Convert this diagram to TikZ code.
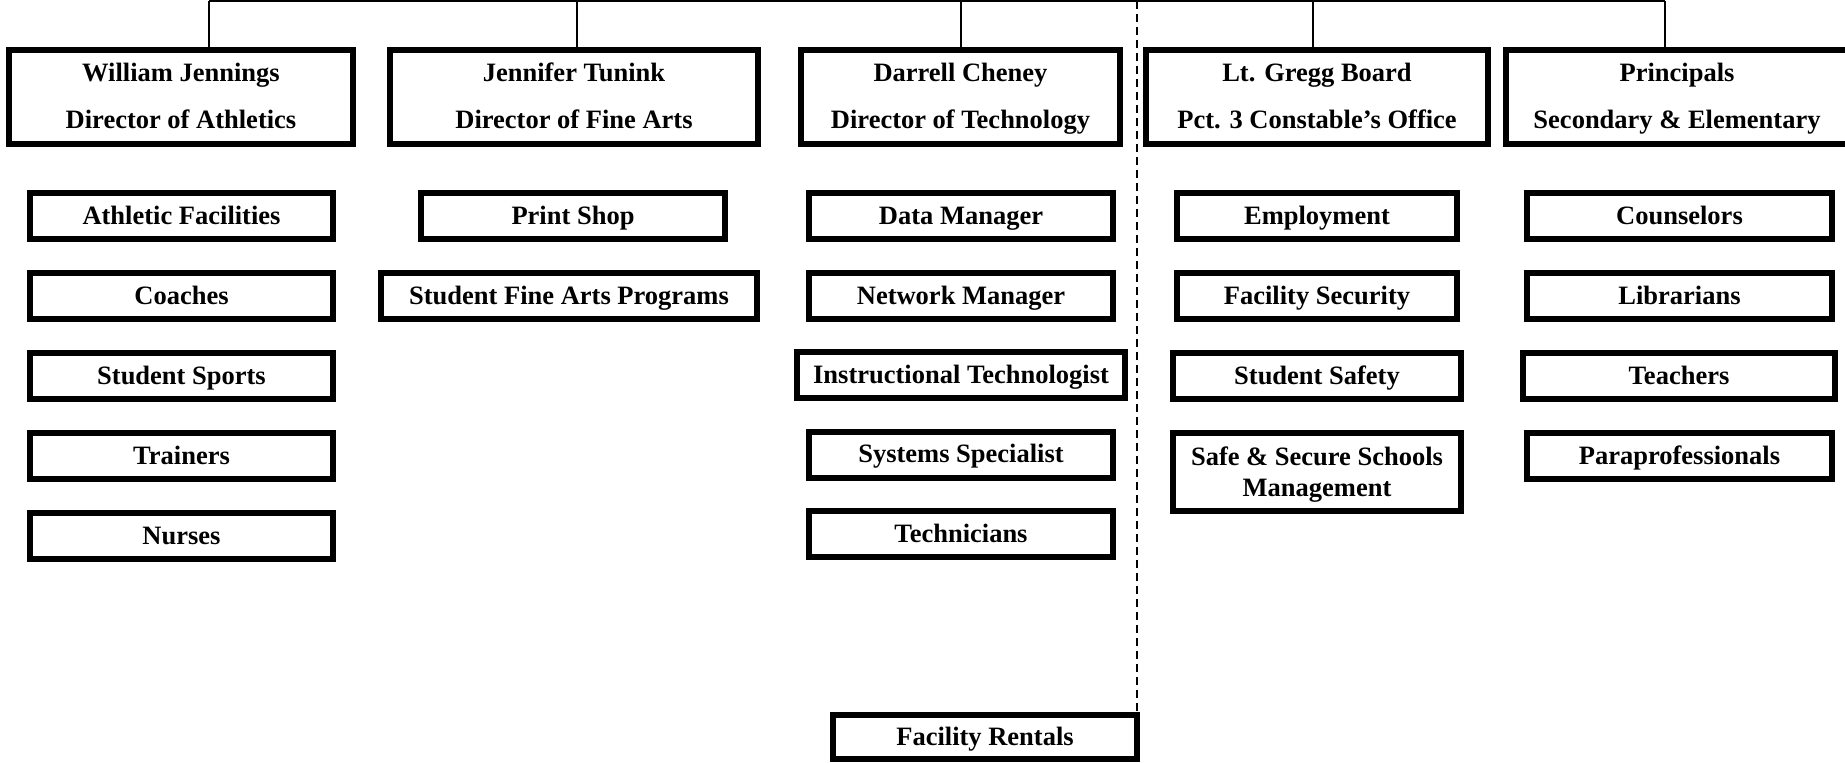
\documentclass[tikz,border=0pt]{standalone}
\usepackage{fontspec}
\setmainfont{Liberation Serif}
\begin{document}
\begin{tikzpicture}[x=1pt,y=-1pt,
  box/.style={draw=black, line width=6pt, fill=white, inner sep=0pt, outer sep=0pt, align=center},
  headbox/.style={box, minimum height=94pt, font=\bfseries\fontsize{26.5}{47.3}\selectfont, text height=64.8pt, text depth=2.2pt},
  subbox/.style={box, minimum height=46pt, font=\bfseries\fontsize{26.5}{30}\selectfont, text height=17.5pt, text depth=1pt},
  twoline/.style={box, minimum height=78pt, font=\bfseries\fontsize{26.5}{31.5}\selectfont, text height=49pt, text depth=0pt},
  link/.style={line width=2pt},
  divider/.style={line width=2pt, dash pattern=on 8pt off 5pt}]
\useasboundingbox (0,0) rectangle (1845,763);

% top connector coordinates
\coordinate (t1) at (209,1);
\coordinate (t2) at (577,1);
\coordinate (t3) at (961,1);
\coordinate (t4) at (1313,1);
\coordinate (t5) at (1665,1);
\coordinate (d0) at (1137,1);

% header boxes
\node[headbox, minimum width=344pt] (h1) at (181,97) {William Jennings\\Director of Athletics};
\node[headbox, minimum width=368pt] (h2) at (574,97) {Jennifer Tunink\\Director of Fine Arts};
\node[headbox, minimum width=319pt] (h3) at (960.5,97) {Darrell Cheney\\Director of Technology};
\node[headbox, minimum width=342pt] (h4) at (1317,97) {Lt. Gregg Board\\Pct. 3 Constable’s Office};
\node[headbox, minimum width=342pt] (h5) at (1677,97) {Principals\\Secondary \& Elementary};

% column 1
\node[subbox, minimum width=303pt] (a1) at (181.5,216) {Athletic Facilities};
\node[subbox, minimum width=303pt] (a2) at (181.5,296) {Coaches};
\node[subbox, minimum width=303pt] (a3) at (181.5,376) {Student Sports};
\node[subbox, minimum width=303pt] (a4) at (181.5,456) {Trainers};
\node[subbox, minimum width=303pt] (a5) at (181.5,536) {Nurses};

% column 2
\node[subbox, minimum width=304pt] (b1) at (573,216) {Print Shop};
\node[subbox, minimum width=376pt] (b2) at (569,296) {Student Fine Arts Programs};

% column 3
\node[subbox, minimum width=304pt] (c1) at (961,216) {Data Manager};
\node[subbox, minimum width=304pt] (c2) at (961,296) {Network Manager};
\node[subbox, minimum width=328pt] (c3) at (961,375) {Instructional Technologist};
\node[subbox, minimum width=304pt] (c4) at (961,454.5) {Systems Specialist};
\node[subbox, minimum width=304pt] (c5) at (961,534) {Technicians};

% column 4
\node[subbox, minimum width=280pt] (e1) at (1317,216) {Employment};
\node[subbox, minimum width=280pt] (e2) at (1317,296) {Facility Security};
\node[subbox, minimum width=288pt] (e3) at (1317,376) {Student Safety};
\node[twoline, minimum width=288pt] (e4) at (1317,472) {Safe \& Secure Schools\\Management};

% column 5
\node[subbox, minimum width=305pt] (f1) at (1679.5,216) {Counselors};
\node[subbox, minimum width=305pt] (f2) at (1679.5,296) {Librarians};
\node[subbox, minimum width=312pt] (f3) at (1679,376) {Teachers};
\node[subbox, minimum width=305pt] (f4) at (1679.5,456) {Paraprofessionals};

% facility rentals
\node[subbox, minimum width=304pt, minimum height=44pt] (fr) at (985,737) {Facility Rentals};

% connectors
\draw[link] (t1) -- (t5);
\draw[link] (t1) -- (t1 |- h1.north);
\draw[link] (t2) -- (t2 |- h2.north);
\draw[link] (t3) -- (t3 |- h3.north);
\draw[link] (t4) -- (t4 |- h4.north);
\draw[link] (t5) -- (t5 |- h5.north);
\draw[divider] (d0) -- (d0 |- fr.north);
\end{tikzpicture}
\end{document}
